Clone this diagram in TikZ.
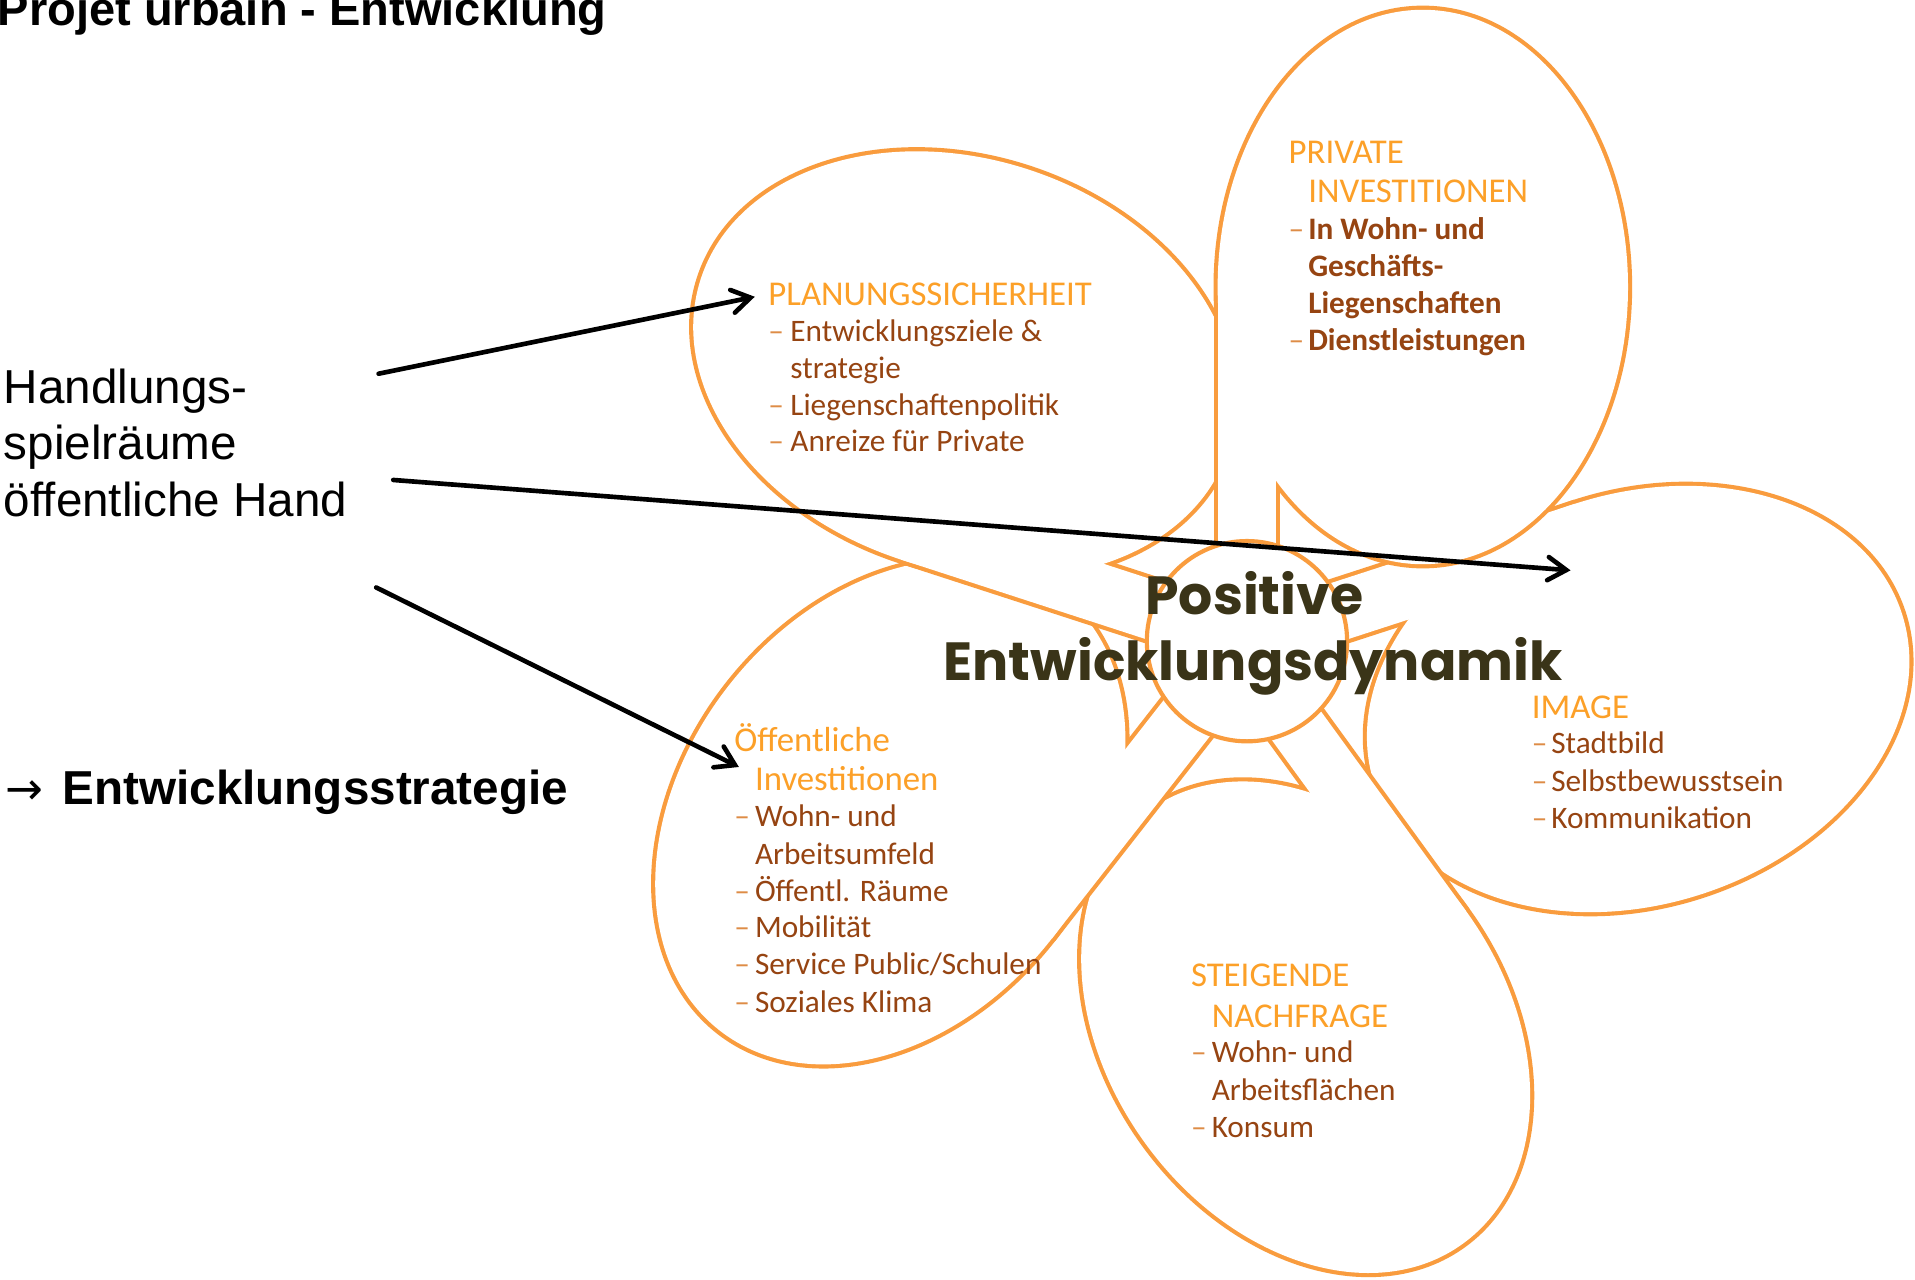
\documentclass[tikz,border=0pt]{standalone}
\usepackage{fontspec}
\setmainfont{Liberation Sans}
\newfontfamily\calib{Carlito}
\newfontfamily\popfont{Poppins}
\newfontfamily\djv{DejaVu Sans}
\usetikzlibrary{arrows.meta}
\definecolor{petalcol}{RGB}{249,156,62}
\definecolor{headcol}{RGB}{252,160,40}
\definecolor{itemcol}{RGB}{150,68,18}
\definecolor{dashcol}{RGB}{222,140,70}
\definecolor{corecol}{RGB}{58,52,24}
\tikzset{
  petalline/.style={draw=petalcol, line width=6.8pt, line join=round},
  hd/.style={font=\calib\fontsize{28.5}{30}\selectfont, text=headcol, anchor=base west, inner sep=0pt},
  it/.style={font=\calib\fontsize{25.6}{30}\selectfont, text=itemcol, anchor=base west, inner sep=0pt},
  itb/.style={font=\calib\bfseries\fontsize{25.6}{30}\selectfont, text=itemcol, anchor=base west, inner sep=0pt},
  ds/.style={font=\calib\fontsize{25.6}{30}\selectfont, text=dashcol, anchor=base west, inner sep=0pt},
  plain/.style={anchor=base west, inner sep=0pt, font=\fontsize{39}{46}\selectfont},
  core/.style={anchor=base, inner sep=0pt, text=corecol, font=\popfont\bfseries\fontsize{44}{50}\selectfont},
  arr/.style={draw=black, line width=3.8pt, line cap=round, -{Straight Barb[length=15pt,width=19pt,line cap=round]}}
}
\newcommand{\petalshape}[2]{%
\begin{scope}[shift={(1021,525)}, #2, rotate=#1, y=1pt]
  \draw[petalline] (0,-24) -- (290,-24) -- (290,24) -- (0,24) -- cycle;
  \draw[petalline] (290,-144) ellipse [x radius=227pt, y radius=168pt];
  \fill[white] (0,-24) -- (290,-24) -- (290,24) -- (0,24) -- cycle;
  \fill[white] (290,-144) ellipse [x radius=227pt, y radius=168pt];
\end{scope}}
\begin{document}
\begin{tikzpicture}[x=1pt, y=-1pt]
\fill[white] (0,0) rectangle (1568,1048);
\useasboundingbox (0,0) rectangle (1568,1048);
\clip (0,0) rectangle (1568,1048);

% petals (bottom to top)
\petalshape{18}{xshift=0pt}
\petalshape{-54}{xshift=-4pt, yshift=-8pt, scale=0.965}
\petalshape{-128}{xshift=0pt}
\petalshape{162}{xshift=0pt}
\petalshape{90}{xshift=0pt}
\node[circle, draw=petalcol, fill=white, line width=3.4pt, minimum size=164pt, inner sep=0pt] (core) at (1021,525) {};

% title and left texts
\node[anchor=base west, inner sep=0pt, font=\bfseries\fontsize{38.5}{46}\selectfont] (title) at (-2,21) {Projet urbain - Entwicklung};
\node[plain] (hand1) at (3,330) {Handlungs-};
\node[plain] (hand2) at (3,376) {spielräume};
\node[plain] (hand3) at (3,423) {öffentliche Hand};
\node[plain] (strat) at (4,659) {\makebox[47pt][l]{\djv\fontsize{37}{44}\selectfont →}\textbf{Entwicklungsstrategie}};

% PLANUNGSSICHERHEIT
\node[hd] (pl0) at (629,250) {PLANUNGSSICHERHEIT};
\node[ds] (pld1) at (629,280) {–};
\node[it] (pl1) at (647,280) {Entwicklungsziele \&};
\node[it] (pl2) at (647,310) {strategie};
\node[ds] (pld3) at (629,340) {–};
\node[it] (pl3) at (647,340) {Liegenschaftenpolitik};
\node[ds] (pld4) at (629,370) {–};
\node[it] (pl4) at (647,370) {Anreize für Private};

% PRIVATE INVESTITIONEN
\node[hd] (pr0) at (1055,134) {PRIVATE};
\node[hd] (pr0b) at (1071,166) {INVESTITIONEN};
\node[ds] (prd1) at (1055,196) {–};
\node[itb] (pr1) at (1071,196) {In Wohn- und};
\node[itb] (pr2) at (1071,226) {Geschäfts-};
\node[itb] (pr3) at (1071,257) {Liegenschaften};
\node[ds] (prd4) at (1055,287) {–};
\node[itb] (pr4) at (1071,287) {Dienstleistungen};

% Oeffentliche Investitionen
\node[hd] (oe0) at (601,615) {Öffentliche};
\node[hd] (oe0b) at (618,647) {Investitionen};
\node[ds] (oed1) at (601,677) {–};
\node[it] (oe1) at (618,677) {Wohn- und};
\node[it] (oe2) at (618,708) {Arbeitsumfeld};
\node[ds] (oed3) at (601,738) {–};
\node[it] (oe3) at (618,738) {Öffentl. Räume};
\node[ds] (oed4) at (601,768) {–};
\node[it] (oe4) at (618,768) {Mobilität};
\node[ds] (oed5) at (601,798) {–};
\node[it] (oe5) at (618,798) {Service Public/Schulen};
\node[ds] (oed6) at (601,829) {–};
\node[it] (oe6) at (618,829) {Soziales Klima};

% IMAGE
\node[hd] (im0) at (1254,588) {IMAGE};
\node[ds] (imd1) at (1254,617) {–};
\node[it] (im1) at (1270,617) {Stadtbild};
\node[ds] (imd2) at (1254,648) {–};
\node[it] (im2) at (1270,648) {Selbstbewusstsein};
\node[ds] (imd3) at (1254,678) {–};
\node[it] (im3) at (1270,678) {Kommunikation};

% STEIGENDE NACHFRAGE
\node[hd] (st0) at (975,808) {STEIGENDE};
\node[hd] (st0b) at (992,841) {NACHFRAGE};
\node[ds] (std1) at (975,870) {–};
\node[it] (st1) at (992,870) {Wohn- und};
\node[it] (st2) at (992,901) {Arbeitsflächen};
\node[ds] (std3) at (975,931) {–};
\node[it] (st3) at (992,931) {Konsum};

% centre text
\node[core] (cpos) at (1027,503) {Positive};
\node[core] (cdyn) at (1026,557) {Entwicklungsdynamik};

% arrows
\coordinate (a1s) at (310,306); \coordinate (a1e) at (618,243);
\coordinate (a2s) at (322,393); \coordinate (a2e) at (1286,467);
\coordinate (a3s) at (308,481); \coordinate (a3e) at (605,628);
\draw[arr] (a1s) -- (a1e);
\draw[arr] (a2s) -- (a2e);
\draw[arr] (a3s) -- (a3e);
\end{tikzpicture}
\end{document}
